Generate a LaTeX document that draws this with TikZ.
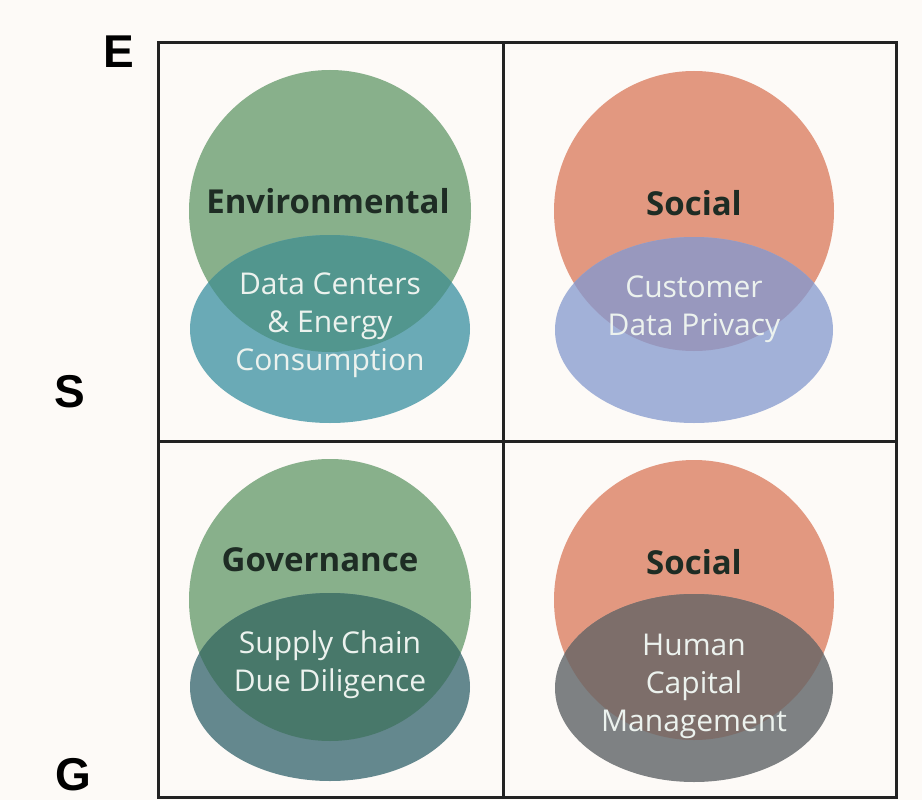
\documentclass[tikz,border=0pt]{standalone}
\usepackage{fontspec}
\setsansfont{Open Sans}
\newfontfamily\axisfont{Liberation Sans}
\usepackage{tikz}
\usetikzlibrary{positioning}
\definecolor{paper}{RGB}{253,250,247}
\definecolor{gridink}{RGB}{34,34,34}
\definecolor{titleink}{RGB}{30,44,36}
\definecolor{topicink}{RGB}{236,242,238}
\definecolor{leafgreen}{RGB}{136,176,139}
\definecolor{coral}{RGB}{226,152,128}
\definecolor{envlower}{RGB}{106,170,182}
\definecolor{envmix}{RGB}{82,150,142}
\definecolor{privlower}{RGB}{162,177,216}
\definecolor{privmix}{RGB}{152,152,190}
\definecolor{supplower}{RGB}{100,136,142}
\definecolor{suppmix}{RGB}{72,120,106}
\definecolor{humlower}{RGB}{126,129,131}
\definecolor{hummix}{RGB}{125,110,106}
\tikzset{
  gridline/.style={draw=gridink, line width=3pt},
  axisletter/.style={
    inner sep=0pt,
    font=\axisfont\bfseries\fontsize{46}{46}\selectfont
  },
  pillar/.style={
    inner sep=0pt,
    text=titleink,
    font=\sffamily\bfseries\fontsize{33}{33}\selectfont
  },
  topic/.style={
    align=center,
    inner sep=0pt,
    text=topicink,
    font=\sffamily\fontsize{30}{38}\selectfont
  }
}

\begin{document}
\begin{tikzpicture}[x=1pt,y=-1pt]
\fill[paper] (0,0) rectangle (922,800);
\useasboundingbox (0,0) rectangle (922,800);

\fill[leafgreen] (330,211) circle[radius=141pt];
\fill[envlower] (330,329) ellipse[x radius=140pt,y radius=94pt];
\begin{scope}
  \clip (330,211) circle[radius=141pt];
  \fill[envmix] (330,329) ellipse[x radius=140pt,y radius=94pt];
\end{scope}

\fill[coral] (694,211) circle[radius=140pt];
\fill[privlower] (694,330) ellipse[x radius=139pt,y radius=93pt];
\begin{scope}
  \clip (694,211) circle[radius=140pt];
  \fill[privmix] (694,330) ellipse[x radius=139pt,y radius=93pt];
\end{scope}

\fill[leafgreen] (330,600) circle[radius=141pt];
\fill[supplower] (330,687) ellipse[x radius=140pt,y radius=94pt];
\begin{scope}
  \clip (330,600) circle[radius=141pt];
  \fill[suppmix] (330,687) ellipse[x radius=140pt,y radius=94pt];
\end{scope}

\fill[coral] (694,600) circle[radius=140pt];
\fill[humlower] (694,688) ellipse[x radius=139pt,y radius=94pt];
\begin{scope}
  \clip (694,600) circle[radius=140pt];
  \fill[hummix] (694,688) ellipse[x radius=139pt,y radius=94pt];
\end{scope}

\draw[gridline] (158,43) rectangle (896,797);
\draw[gridline] (503,43) -- (503,797);
\draw[gridline] (158,441) -- (896,441);

\node[axisletter] (e) at (119,52) {E};
\node[axisletter] (s) at (70,392) {S};
\node[axisletter] (g) at (73,775) {G};

\node[pillar] (env) at (328,201) {Environmental};
\node[pillar] (soc1) at (694,203) {Social};
\node[pillar] (gov) at (320,560) {Governance};
\node[pillar] (soc2) at (694,562) {Social};

\node[topic] (data) at (330,325) {Data Centers\\\& Energy\\Consumption};
\node[topic] (priv) at (694,309) {Customer\\Data Privacy};
\node[topic] (supp) at (330,665) {Supply Chain\\Due Diligence};
\node[topic] (hcm) at (694,686) {Human\\Capital\\Management};
\end{tikzpicture}
\end{document}
